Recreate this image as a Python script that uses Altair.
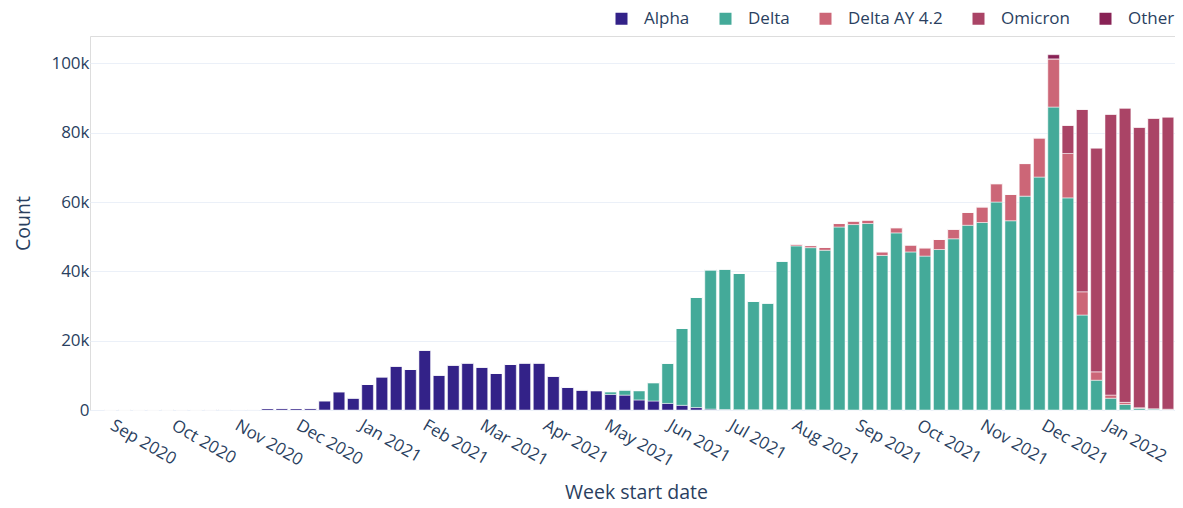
import altair as alt
import pandas as pd
from datetime import date, timedelta

# Weekly bars, week start (Monday) from 31 Aug 2020 to 31 Jan 2022
first_week = date(2020, 8, 31)
weeks = [(first_week + timedelta(weeks=i)).isoformat() for i in range(75)]

# Monthly tick labels shown on the x axis: Sep 2020 ... Jan 2022
tick_months = [(2020, 9), (2020, 10), (2020, 11), (2020, 12),
               (2021, 1), (2021, 2), (2021, 3), (2021, 4), (2021, 5), (2021, 6),
               (2021, 7), (2021, 8), (2021, 9), (2021, 10), (2021, 11), (2021, 12),
               (2022, 1)]

series = ["Alpha", "Delta", "Delta AY 4.2", "Omicron", "Other"]
colors = ["#332288", "#44AA99", "#CC6677", "#AA4466", "#882255"]

alpha = [60, 50, 60, 70, 60, 80, 70, 90, 100, 120,
         200, 450, 550, 450, 550, 2700, 5300, 3500, 7400, 9600,
         12700, 11700, 17300, 10100, 13000, 13600, 12400, 10600, 13200, 13600,
         13600, 9800, 6600, 5800, 5600, 4500, 4300, 2900, 2600, 1900,
         1350, 700, 250, 150, 100, 50, 50, 50, 50, 40,
         0, 0, 0, 0, 0, 0, 0, 0, 0, 0,
         0, 0, 0, 0, 0, 0, 0, 0, 0, 0,
         0, 0, 0, 0, 0]
delta = [0, 0, 0, 0, 0, 0, 0, 0, 0, 0,
         0, 0, 0, 0, 0, 0, 0, 0, 0, 0,
         0, 0, 0, 0, 0, 0, 0, 0, 0, 0,
         0, 0, 0, 0, 0, 800, 1500, 2700, 5300, 11600,
         22200, 31800, 40200, 40500, 39300, 31300, 30800, 42900, 47300, 46800,
         46100, 52800, 53500, 53800, 44600, 51100, 45600, 44400, 46300, 49400,
         53300, 54100, 60000, 54600, 61700, 67200, 87400, 61200, 27400, 8600,
         3400, 1600, 500, 300, 200]
ay42 = [0, 0, 0, 0, 0, 0, 0, 0, 0, 0,
        0, 0, 0, 0, 0, 0, 0, 0, 0, 0,
        0, 0, 0, 0, 0, 0, 0, 0, 0, 0,
        0, 0, 0, 0, 0, 0, 0, 0, 0, 0,
        0, 0, 0, 0, 0, 0, 0, 0, 500, 600,
        800, 1000, 1000, 1000, 1050, 1500, 2000, 2400, 2900, 2750,
        3700, 4500, 5300, 7600, 9400, 11300, 13900, 12800, 6700, 2400,
        900, 600, 150, 50, 30]
omicron = [0] * 67 + [8100, 52600, 64600, 81000, 84900, 80900, 83800, 84300]
other = [0] * 66 + [1200] + [0] * 8

y_ticks = [0, 20000, 40000, 60000, 80000, 100000]

values = {"Alpha": alpha, "Delta": delta, "Delta AY 4.2": ay42,
          "Omicron": omicron, "Other": other}

rows = []
for k, name in enumerate(series):
    for d, v in zip(weeks, values[name]):
        rows.append({"week": d, "variant": name, "count": v, "order": k})
df = pd.DataFrame(rows)

FONT = "Open Sans"
TXT = "#2a3f5f"
GRID = "#EBF0F8"

chart = alt.Chart(df).mark_bar(size=11.6, stroke="white", strokeWidth=0.5).encode(
    x=alt.X(
        "week:T",
        scale=alt.Scale(
            type="utc",
            domain=[alt.DateTime(year=2020, month=8, date=23, hours=12, utc=True),
                    alt.DateTime(year=2022, month=2, date=1, utc=True)],
        ),
        axis=alt.Axis(
            title="Week start date", format="%b %Y", labelAngle=30,
            values=[alt.DateTime(year=y, month=m, date=1, utc=True) for y, m in tick_months],
            grid=False, ticks=False, domain=False, labelOverlap=False,
            labelFont=FONT, labelFontSize=17, labelColor=TXT, labelPadding=7,
            tickOffset=3,
            titleFont=FONT, titleFontSize=19.5, titleColor=TXT,
            titleFontWeight="normal", titlePadding=14, titleX=546,
        ),
    ),
    y=alt.Y(
        "count:Q", stack="zero",
        scale=alt.Scale(domain=[0, 107900], nice=False, zero=True),
        axis=alt.Axis(
            title="Count", values=y_ticks,
            labelExpr="datum.value == 0 ? '0' : format(datum.value / 1000, 'd') + 'k'",
            grid=True, gridColor=GRID, gridWidth=1,
            ticks=False, domain=False,
            labelFont=FONT, labelFontSize=17, labelColor=TXT, labelPadding=1,
            titleFont=FONT, titleFontSize=19.5, titleColor=TXT,
            titleFontWeight="normal", titlePadding=17,
        ),
    ),
    color=alt.Color(
        "variant:N",
        scale=alt.Scale(domain=series, range=colors),
        legend=alt.Legend(
            title=None, orient="none", legendX=523, legendY=-26,
            direction="horizontal", symbolType="square", symbolSize=144,
            symbolStrokeWidth=0, symbolOpacity=1,
            labelFont=FONT, labelFontSize=17, labelColor=TXT,
            labelOffset=14, columnPadding=27,
        ),
    ),
    order=alt.Order("order:Q", sort="ascending"),
).properties(
    width=1085, height=374,
    padding={"left": 82, "top": 28, "right": 0, "bottom": 90},
    autosize=alt.AutoSizeParams(type="none"),
).configure_view(stroke=None).configure(background="white")

chart.save("out.html", embed_options={"renderer": "svg", "actions": False})
